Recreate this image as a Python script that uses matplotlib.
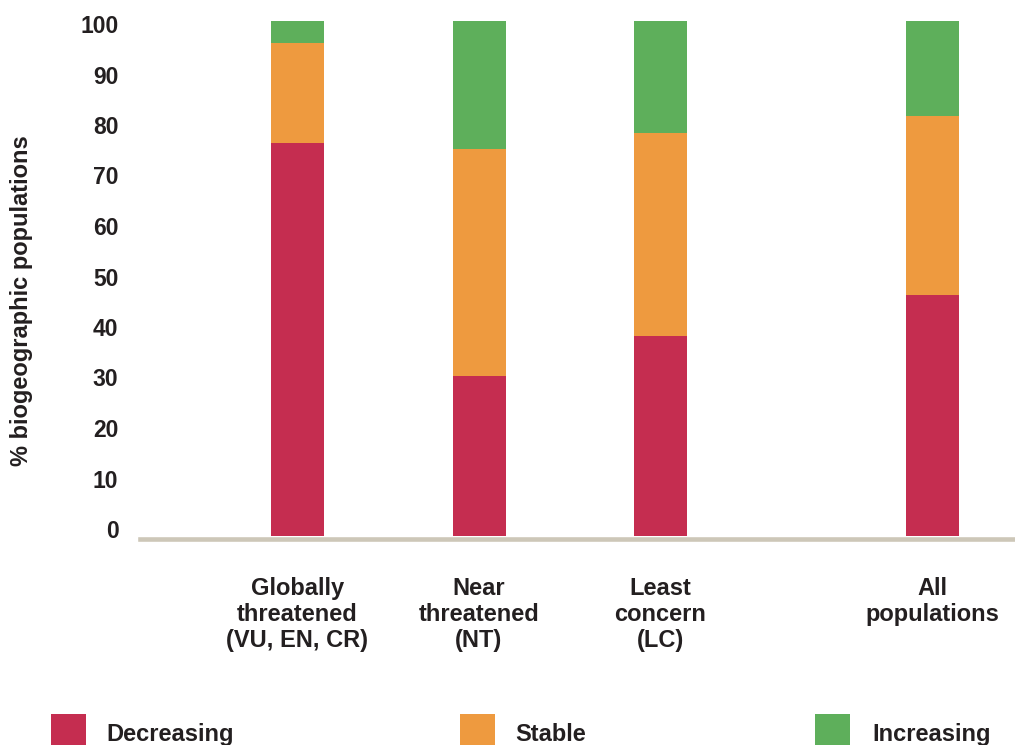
import numpy as np
import matplotlib
matplotlib.use("Agg")
import matplotlib.pyplot as plt
from matplotlib.patches import Rectangle
from matplotlib.transforms import ScaledTranslation

# data (% of biogeographic populations)
categories = ["Globally\nthreatened\n(VU, EN, CR)", "Near\nthreatened\n(NT)",
              "Least\nconcern\n(LC)", "All\npopulations"]
cat_pos = [0, 1, 2, 3.5]
decreasing = [76.3, 31.1, 38.8, 46.7]
stable = [19.4, 44.0, 39.5, 34.9]
increasing = [4.3, 24.9, 21.7, 18.4]
series_names = ["Decreasing", "Stable", "Increasing"]
colors = ["#c52d50", "#ee9a3f", "#5eaf5b"]
yticks = list(range(0, 101, 10))

plt.rcParams["font.family"] = ["Liberation Sans", "DejaVu Sans"]
text_color = "#231f20"

W, H = 1015, 745
fig = plt.figure(figsize=(W / 100, H / 100), dpi=100)
ax = fig.add_axes([140 / W, (H - 536) / H, 875 / W, 515 / H])

x = np.array(cat_pos)
width = 53 / 181.5
bottom = np.zeros(len(x))
for vals, col in zip([decreasing, stable, increasing], colors):
    ax.bar(x, vals, width=width, bottom=bottom, color=col, linewidth=0)
    bottom += np.array(vals)

ax.set_xlim((140 - 297.5) / 181.5, (1015 - 297.5) / 181.5)
ax.set_ylim(0, 100)

for s in ["top", "right", "left"]:
    ax.spines[s].set_visible(False)
ax.spines["bottom"].set_color("#cdc7b8")
ax.spines["bottom"].set_linewidth(3.3)
ax.spines["bottom"].set_position(("outward", 2.4))

ax.set_yticks(yticks)
ax.set_yticklabels([str(v) for v in yticks], fontsize=16.5, fontweight="bold",
                   color=text_color)
ax.tick_params(axis="y", length=0, pad=15.5)
# the original's tick labels sit on a slightly tighter scale than the bars
for k, lab in enumerate(ax.get_yticklabels()):
    dy = (7 - k) / 100
    lab.set_transform(lab.get_transform() + ScaledTranslation(0, dy, fig.dpi_scale_trans))

ax.set_xticks(cat_pos)
ax.set_xticklabels(categories, fontsize=17, fontweight="bold", color=text_color,
                   linespacing=1.18)
ax.tick_params(axis="x", length=0, pad=27)

ax.set_ylabel("% biogeographic populations", fontsize=17, fontweight="bold",
              color=text_color)
ax.yaxis.set_label_coords((33 - 140) / 875, (536 - 301) / 515)

# legend along the bottom edge
sq_x = [51, 460, 815]
txt_x = [106, 515, 872]
for name, col, sx, tx in zip(series_names, colors, sq_x, txt_x):
    fig.patches.append(Rectangle((sx / W, -0.01), 35 / W, (H - 714) / H + 0.01,
                                 transform=fig.transFigure, color=col,
                                 linewidth=0))
    fig.text(tx / W, (H - 741) / H, name, fontsize=17, fontweight="bold",
             color=text_color, ha="left", va="baseline")

fig.savefig("out.png", dpi=100)
